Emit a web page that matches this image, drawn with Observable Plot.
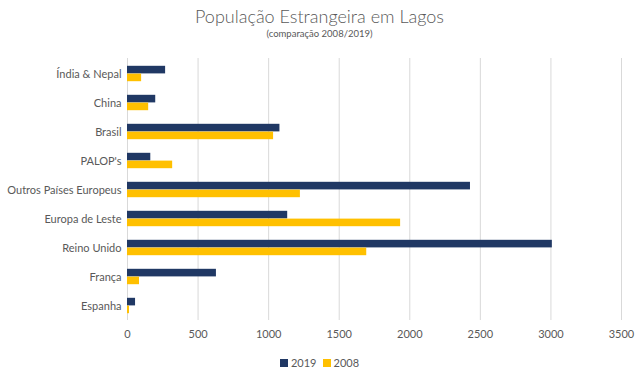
<!DOCTYPE html>
<html>
<head>
<meta charset="utf-8">
<script src="https://cdn.jsdelivr.net/npm/d3@7"></script>
<script src="https://cdn.jsdelivr.net/npm/@observablehq/plot@0.6"></script>
<style>
  body { margin: 0; background: #fff; font-family: Lato, "Open Sans", sans-serif; color: #595959; }
  #wrap { width: 639px; height: 376px; position: relative; overflow: hidden; }
  #title { height: 50px; text-align: center; position: relative; }
  #title .t { position: absolute; left: 0; right: 0; top: 5px; font-size: 18px; font-weight: 300; color: #595959; }
  #title .s { position: absolute; left: 0; right: 0; top: 28px; font-size: 9.5px; color: #595959; }
  #legend { position: absolute; top: 356px; left: 0; right: 0; text-align: center; font-size: 11px; color: #595959; }
  #legend span.sw { display: inline-block; width: 8px; height: 8px; margin: 0 3px 0 0; vertical-align: 0px; }
  #legend span.it { margin: 0 3px; }
</style>
</head>
<body>
<div id="wrap">
  <div id="title"><div class="t">População Estrangeira em Lagos</div><div class="s">(comparação 2008/2019)</div></div>
  <div id="chart"></div>
  <div id="legend"></div>
</div>
<script>
const categories = ["Índia & Nepal", "China", "Brasil", "PALOP's", "Outros Países Europeus", "Europa de Leste", "Reino Unido", "França", "Espanha"];
const values2019 = [270, 200, 1080, 165, 2430, 1135, 3010, 630, 57];
const values2008 = [100, 150, 1035, 320, 1225, 1935, 1695, 85, 14];
const xTicks = [0, 500, 1000, 1500, 2000, 2500, 3000, 3500];
const seriesNames = ["2019", "2008"];
const colors = ["#203864", "#FFC000"];

const rows2019 = categories.map((c, i) => ({category: c, value: values2019[i], series: "2019"}));
const rows2008 = categories.map((c, i) => ({category: c, value: values2008[i], series: "2008"}));

const chart = Plot.plot({
  width: 639,
  height: 300,
  marginTop: 8,
  marginBottom: 30,
  marginLeft: 127,
  marginRight: 18,
  style: {fontFamily: "Lato, 'Open Sans', sans-serif", fontSize: "11px", color: "#595959", background: "#fff"},
  x: {domain: [0, 3500], ticks: xTicks, tickSize: 0, tickPadding: 10, label: null, tickFormat: d => String(d)},
  y: {domain: categories, padding: 0, tickSize: 0, tickPadding: 6, label: null},
  marks: [
    Plot.gridX(xTicks, {stroke: "#d9d9d9", strokeOpacity: 1, strokeWidth: 1}),
    Plot.barX(rows2019, {x: "value", y: "category", fill: colors[0], insetTop: 6.8, insetBottom: 14.6}),
    Plot.barX(rows2008, {x: "value", y: "category", fill: colors[1], insetTop: 14.6, insetBottom: 6.8})
  ]
});
document.getElementById("chart").appendChild(chart);

const legend = document.getElementById("legend");
seriesNames.forEach((name, i) => {
  const it = document.createElement("span");
  it.className = "it";
  it.innerHTML = `<span class="sw" style="background:${colors[i]}"></span>${name}`;
  legend.appendChild(it);
});
</script>
</body>
</html>
